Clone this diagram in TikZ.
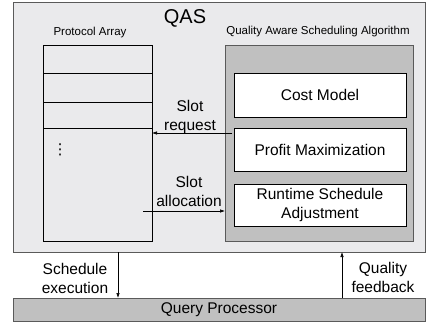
\documentclass[tikz,border=0pt]{standalone}
\usepackage{fontspec}
\setmainfont{Liberation Sans}
\newfontfamily\dejavu{DejaVu Sans}
\usetikzlibrary{arrows.meta}
\definecolor{qasbg}{RGB}{234,234,236}
\definecolor{algbg}{RGB}{192,192,192}
\definecolor{edgegray}{RGB}{90,90,90}
\tikzset{
  box/.style={draw=black, line width=0.8pt, fill=white, inner sep=0pt, outer sep=0pt, anchor=north west, align=center,
    font=\fontsize{15.5}{19}\selectfont},
  cell/.style={draw=black, line width=0.8pt, inner sep=0pt, outer sep=0pt, anchor=north west, minimum width=109pt},
  lbl/.style={inner sep=0pt, align=center, font=\fontsize{15.5}{19}\selectfont},
  small/.style={inner sep=0pt, font=\fontsize{11.5}{13}\selectfont},
  arr/.style={draw=black, line width=0.6pt, -{Latex[length=5pt,width=3.5pt]}},
}
\begin{document}
\begin{tikzpicture}[x=1pt,y=-1pt]
\useasboundingbox (0,0) rectangle (427,326);
% outer QAS box
\node[draw=edgegray, fill=qasbg, line width=0.8pt, inner sep=0pt, outer sep=0pt, anchor=north west,
      minimum width=412pt, minimum height=250pt] (qas) at (13,2) {};
\node[inner sep=0pt, font=\fontsize{20}{22}\selectfont] (qastitle) at (185,18) {QAS};
% protocol array
\node[small] (palabel) at (90,33) {Protocol Array};
\node[cell, minimum height=28pt] (c1) at (43,45) {};
\node[cell, minimum height=29pt] (c2) at (43,73) {};
\node[cell, minimum height=26pt] (c3) at (43,102) {};
\node[cell, minimum height=113pt] (c4) at (43,128) {};
\node[inner sep=0pt, font=\dejavu\fontsize{15}{15}\selectfont] (dots) at (60,150) {⋮};
% algorithm box
\node[small] (alglabel) at (318,32) {Quality Aware Scheduling Algorithm};
\node[draw=edgegray, fill=algbg, line width=0.8pt, inner sep=0pt, outer sep=0pt, anchor=north west,
      minimum width=188pt, minimum height=196pt] (alg) at (225,45) {};
\node[box, minimum width=172pt, minimum height=44pt] (cost) at (234,73) {Cost Model};
\node[box, minimum width=172pt, minimum height=43pt] (profit) at (234,128) {Profit Maximization};
\node[box, minimum width=172pt, minimum height=42pt] (runtime) at (234,184) {Runtime Schedule\\Adjustment};
% query processor
\node[draw=edgegray, fill=algbg, line width=0.8pt, inner sep=0pt, outer sep=0pt, anchor=north west,
      minimum width=412pt, minimum height=23pt, font=\fontsize{15.5}{19}\selectfont] (qp) at (13,298) {Query Processor};
% slot arrows
\draw[arr] ([xshift=-2pt,yshift=-5pt]profit.north west) -- ([yshift=-5pt]c4.north east);
\node[lbl] (reqlbl) at (190,117) {Slot\\request};
\coordinate (alloc) at ([yshift=-26.5pt]c4.east);
\draw[arr] ([xshift=-9pt]alloc) -- (alloc -| alg.west);
\node[lbl] (alloclbl) at (189,191) {Slot\\allocation};
% vertical arrows
\coordinate (se) at (118,270);
\draw[arr] (qas.south -| se) -- (qp.north -| se);
\node[lbl] (selbl) at (75,278) {Schedule\\execution};
\coordinate (qf) at (342,270);
\draw[arr] (qp.north -| qf) -- (qas.south -| qf);
\node[lbl] (qflbl) at (383,277) {Quality\\feedback};
\end{tikzpicture}
\end{document}
